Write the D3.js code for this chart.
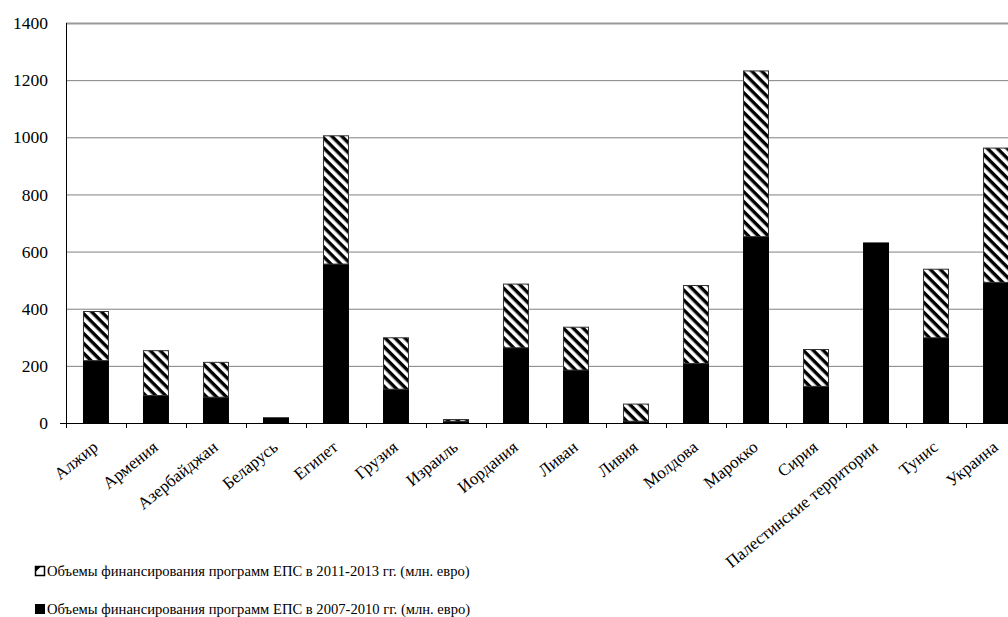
<!DOCTYPE html>
<head>
    <meta charset="utf-8">
    <style>
        body {
            margin: 0;
            background-color: #fff;
            overflow: hidden;
        }
    </style>
</head>
<body>
    <div id="chart-area"></div>

    <script src="https://d3js.org/d3.v7.min.js"></script>
    <script>
        var countries = ["Алжир", "Армения", "Азербайджан", "Беларусь", "Египет", "Грузия", "Израиль", "Иордания",
            "Ливан", "Ливия", "Молдова", "Марокко", "Сирия", "Палестинские территории", "Тунис", "Украина"]
        var funds2007 = [220, 98, 92, 20, 558, 120, 8, 265, 187, 8, 210, 654, 130, 632, 300, 494]
        var funds2011 = [172, 157, 122, 0, 449, 180, 6, 223, 150, 60, 273, 580, 129, 0, 240, 470]
        var yTicks = [0, 200, 400, 600, 800, 1000, 1200, 1400]
        var legendLabels = [
            "Объемы финансирования программ ЕПС в 2011-2013 гг. (млн. евро)",
            "Объемы финансирования программ ЕПС в 2007-2010 гг. (млн. евро)"
        ]

        var width = 1008, height = 617
        var margins = { top: 23, left: 66, bottom: 194 }
        var serif = "'Liberation Serif', 'DejaVu Serif', serif"

        var svg = d3.select("#chart-area").append("svg")
            .attr("width", width).attr("height", height)
            .style("font-family", serif)

        // hatch pattern for the second period
        var defs = svg.append("defs")
        var pat = defs.append("pattern")
            .attr("id", "hatch")
            .attr("patternUnits", "userSpaceOnUse")
            .attr("width", 7).attr("height", 7)
            .attr("patternTransform", "rotate(45)")
        pat.append("rect").attr("width", 7).attr("height", 7).attr("fill", "#fff")
        pat.append("rect").attr("width", 7).attr("height", 3.4).attr("fill", "#000")

        var x = d3.scaleBand()
            .domain(countries)
            .range([margins.left, margins.left + 60 * countries.length])
        var xBar = d3.scaleBand()
            .domain(countries)
            .range(x.range())
            .paddingInner(0.567)
            .paddingOuter(0.283)
        var y = d3.scaleLinear()
            .domain([0, 1400])
            .range([height - margins.bottom, margins.top])

        // grid lines
        svg.append("g").selectAll("line")
            .data(yTicks.filter(d => d > 0))
            .join("line")
            .attr("x1", margins.left).attr("x2", width)
            .attr("y1", d => y(d) + 0.5).attr("y2", d => y(d) + 0.5)
            .attr("stroke", d => d === 1400 ? "#999" : "#808080")
            .attr("stroke-width", d => d === 1400 ? 2 : 1)

        // y labels
        svg.append("g").selectAll("text")
            .data(yTicks)
            .join("text")
            .attr("x", 48)
            .attr("y", d => y(d))
            .attr("dy", "0.35em")
            .attr("text-anchor", "end")
            .attr("font-family", serif)
            .style("font-size", "17.5px")
            .text(d => d)

        var data = countries.map((c, i) => ({ country: c, a: funds2007[i], b: funds2011[i] }))

        // bars: 2007-2010 (black)
        svg.append("g").selectAll("rect")
            .data(data)
            .join("rect")
            .attr("x", d => xBar(d.country))
            .attr("width", xBar.bandwidth())
            .attr("y", d => y(d.a))
            .attr("height", d => y(0) - y(d.a))
            .attr("fill", "#000")

        // bars: 2011-2013 (hatched)
        svg.append("g").selectAll("rect")
            .data(data.filter(d => d.b > 0))
            .join("rect")
            .attr("x", d => xBar(d.country) + 0.5)
            .attr("width", xBar.bandwidth() - 1)
            .attr("y", d => y(d.a + d.b) + 0.5)
            .attr("height", d => y(d.a) - y(d.a + d.b))
            .attr("fill", "url(#hatch)")
            .attr("stroke", "#333")
            .attr("stroke-width", 1)

        // axes lines
        svg.append("line")
            .attr("x1", margins.left + 0.5).attr("x2", margins.left + 0.5)
            .attr("y1", y(1400)).attr("y2", y(0))
            .attr("stroke", "#000")
        svg.append("line")
            .attr("x1", 60).attr("x2", width)
            .attr("y1", y(0) + 0.5).attr("y2", y(0) + 0.5)
            .attr("stroke", "#000")

        // x ticks at band edges
        svg.append("g").selectAll("line")
            .data(countries)
            .join("line")
            .attr("x1", d => x(d) + 0.5).attr("x2", d => x(d) + 0.5)
            .attr("y1", y(0)).attr("y2", y(0) + 5)
            .attr("stroke", "#000")

        // x labels
        svg.append("g").selectAll("text")
            .data(countries)
            .join("text")
            .attr("text-anchor", "end")
            .attr("font-family", serif)
            .style("font-size", "17px")
            .attr("transform", d => `translate(${x(d) + x.bandwidth() / 2 + 3},${y(0) + 26}) rotate(-39)`)
            .text(d => d)

        // legend
        var legend = svg.append("g").selectAll("g")
            .data(legendLabels)
            .join("g")
            .attr("transform", (d, i) => `translate(35,${566 + i * 38})`)
        legend.append("rect")
            .attr("width", 9).attr("height", 9)
            .attr("x", 0.5).attr("y", 0.5)
            .attr("fill", (d, i) => i === 0 ? "#fff" : "#000")
            .attr("stroke", "#000")
            .attr("stroke-width", (d, i) => i === 0 ? 1.5 : 1)
        legend.filter((d, i) => i === 0).append("path")
            .attr("d", "M0.5,0.5 L6,0.5 L0.5,6 Z")
            .attr("fill", "#000")
        legend.append("text")
            .attr("x", 12).attr("y", 10)
            .attr("font-family", serif)
            .style("font-size", "14.6px")
            .text(d => d)
    </script>
</body>
